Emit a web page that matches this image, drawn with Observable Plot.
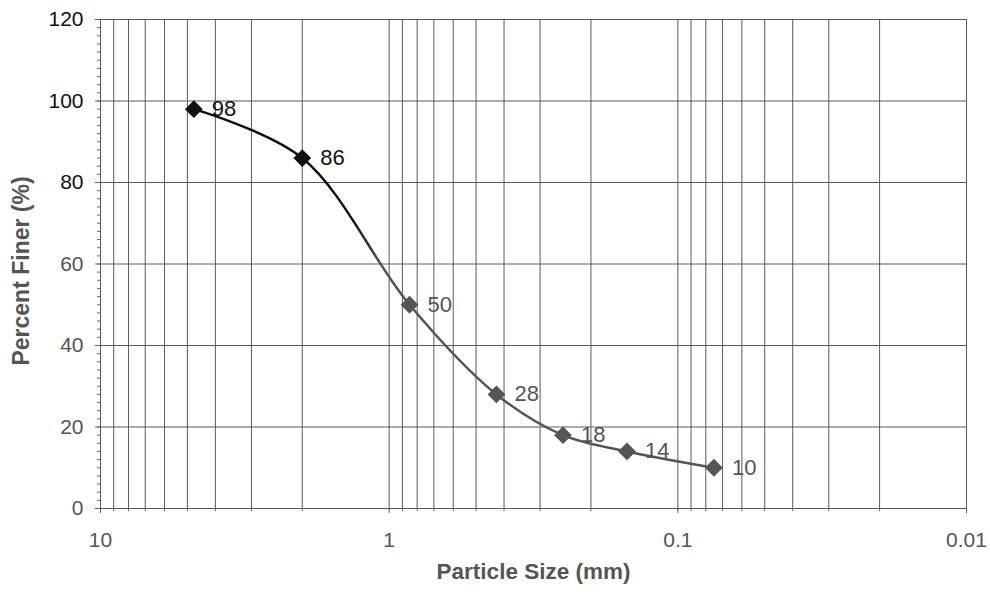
<!DOCTYPE html>
<html><head><meta charset="utf-8">
<script src="https://cdn.jsdelivr.net/npm/d3@7"></script>
<script src="https://cdn.jsdelivr.net/npm/@observablehq/plot@0.6"></script>
<style>body{margin:0;background:#fff}</style>
</head><body><div id="chart"></div>
<script>
// Sieve sizes (mm) and percent finer
const sizes = [4.75, 2.0, 0.85, 0.425, 0.25, 0.15, 0.075];
const finer = [98, 86, 50, 28, 18, 14, 10];
const xTickLabels = [10, 1, 0.1, 0.01];
const yTicksDark = [80, 100, 120];
const yTicksLight = [0, 20, 40, 60];
const xTitle = "Particle Size (mm)";
const yTitle = "Percent Finer (%)";

const data = sizes.map((s, i) => ({size: s, pct: finer[i]}));
const xGrid = [];
for (const dec of [0.01, 0.1, 1]) for (let k = 1; k <= 9; k++) xGrid.push(+(k * dec).toPrecision(3));
xGrid.push(10);
const yGrid = [...yTicksLight, ...yTicksDark];
const yMinor = d3.range(0, 121, 2);

const dark = "#111", light = "#555";
const tone = d => d.pct > 70 ? dark : light;

const gradient = (index, scales) => {
  const ns = "http://www.w3.org/2000/svg";
  const defs = document.createElementNS(ns, "defs");
  const g = document.createElementNS(ns, "linearGradient");
  g.setAttribute("id", "curveGrad");
  g.setAttribute("gradientUnits", "userSpaceOnUse");
  g.setAttribute("x1", 0); g.setAttribute("x2", 0);
  g.setAttribute("y1", scales.y(70)); g.setAttribute("y2", scales.y(60));
  for (const [o, c] of [[0, dark], [1, light]]) {
    const s = document.createElementNS(ns, "stop");
    s.setAttribute("offset", o); s.setAttribute("stop-color", c);
    g.appendChild(s);
  }
  defs.appendChild(g);
  return defs;
};

const chart = Plot.plot({
  width: 990, height: 594,
  marginLeft: 100, marginRight: 24, marginTop: 19, marginBottom: 86,
  style: {fontFamily: "'Liberation Sans', Arial, sans-serif", fontSize: "21px", background: "#fff", color: "#222"},
  x: {type: "log", domain: [10, 0.01]},
  y: {domain: [0, 120]},
  marks: [
    gradient,
    Plot.ruleX(xGrid, {stroke: "#5a5a5a", strokeWidth: 1}),
    Plot.ruleY(yGrid, {stroke: "#5a5a5a", strokeWidth: 1}),
    Plot.axisX(xGrid, {tickSize: 3, tickFormat: () => "", label: null, stroke: "#666"}),
    Plot.axisX(xTickLabels, {tickSize: 5, tickPadding: 19, tickFormat: d => String(d), label: null, fill: light, stroke: "#666", fontSize: 21}),
    Plot.axisY(yMinor, {tickSize: 3, tickFormat: () => "", label: null, stroke: "#666"}),
    Plot.axisY(yTicksDark, {tickSize: 5, tickPadding: 12, label: null, fill: dark, stroke: "#666", fontSize: 21}),
    Plot.axisY(yTicksLight, {tickSize: 5, tickPadding: 12, label: null, fill: light, stroke: "#666", fontSize: 21}),
    Plot.line(data, {x: "size", y: "pct", curve: "catmull-rom", stroke: "url(#curveGrad)", strokeWidth: 2.5}),
    Plot.dot(data, {x: "size", y: "pct", symbol: "diamond2", r: 8, fill: tone, stroke: "none"}),
    Plot.text(data, {x: "size", y: "pct", text: d => String(d.pct), dx: 18, textAnchor: "start", fill: tone, fontSize: 22}),
    Plot.text([xTitle], {text: d => d, frameAnchor: "bottom", dy: 70, fontWeight: "bold", fill: light, fontSize: 22.5}),
    Plot.text([yTitle], {text: d => d, frameAnchor: "left", textAnchor: "middle", dx: -79, dy: 7, rotate: -90, fontWeight: "bold", fill: light, fontSize: 23})
  ]
});
document.getElementById("chart").appendChild(chart);
</script>
</body></html>
